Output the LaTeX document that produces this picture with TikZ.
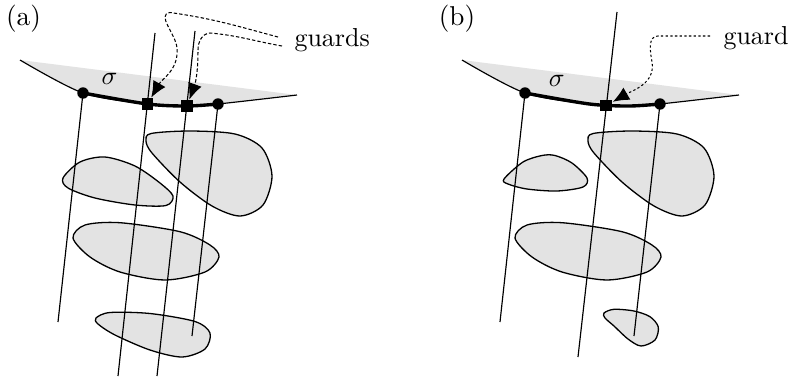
\documentclass[tikz,border=0pt]{standalone}
\usetikzlibrary{arrows.meta}
\newcommand{\panelbase}[1]{%
  \fill[gray!22] plot[smooth] coordinates {(20,-60) (83,-93) (147.5,-104) (187,-106) (218,-104) (297,-95)} -- cycle;
  \draw[ray] plot[smooth] coordinates {(20,-60) (83,-93) (147.5,-104) (187,-106) (218,-104) (297,-95)};
  \draw[blob] plot[smooth cycle] coordinates {(146,-141) (151,-133.5) (190,-131) (235,-134) (262,-148) (272,-176) (263,-205) (240,-216) (212,-206) (180,-182) (152,-153)};
  \draw[blob] plot[smooth cycle] coordinates {(73,-238) (85,-225) (120,-222.7) (180,-231.7) (210,-245) (219,-257) (205,-272) (165,-280) (120,-272) (90,-257)};
}
\newcommand{\panelrays}[1]{%
  \draw[line width=1.3pt] plot[smooth] coordinates {(83,-93) (147.5,-104) (187,-106) (218,-104)};
  \node[vdot] (d1#1) at (83,-93) {};
  \node[vdot] (d4#1) at (218,-104) {};
  \coordinate (e1#1) at (58,-322);
  \coordinate (e4#1) at (192,-336);
  \draw[ray] (d1#1.center) -- (e1#1);
  \draw[ray] (d4#1.center) -- (e4#1);
}
\begin{document}
\begin{tikzpicture}[x=0.385pt,y=0.385pt,
  ray/.style={line width=0.45pt},
  blob/.style={fill=gray!22,draw=black,line width=0.5pt},
  vdot/.style={circle,fill=black,inner sep=0pt,minimum size=4.4pt},
  guardsq/.style={rectangle,fill=black,inner sep=0pt,minimum size=4.6pt},
  ptra/.style={line width=0.4pt,dash pattern=on 1.3pt off 0.8pt,-{Latex[length=6.2pt,width=5.4pt]}},
  ptrb/.style={line width=0.4pt,dash pattern=on 0.9pt off 0.9pt,-{Latex[length=6.2pt,width=5.4pt]}},
  lbl/.style={inner sep=0pt}]
\useasboundingbox (0,0) rectangle (792,-376);
% ---------------- panel (a)
\panelbase{a}
\draw[blob] plot[smooth cycle] coordinates {(63,-178) (80,-162) (105,-157) (135,-166) (160,-183) (173,-196) (166,-205.5) (135,-205) (95,-198) (68,-188)};
\draw[blob] plot[smooth cycle] coordinates {(96,-318) (110,-312.5) (150,-313.5) (195,-321.5) (210,-333) (205,-349) (182,-357) (150,-350) (115,-335) (98,-324)};
\panelrays{a}
\coordinate (t2a) at (155,-33);
\coordinate (b2a) at (118,-376);
\coordinate (t3a) at (195,-31);
\coordinate (b3a) at (157,-376);
\draw[ray] (t2a) -- (b2a);
\draw[ray] (t3a) -- (b3a);
\node[guardsq] (sqa1) at (147.5,-104) {};
\node[guardsq] (sqa2) at (187,-106) {};
\node[lbl] (siga) at (109.5,-79) {$\sigma$};
\node[lbl,font=\fontsize{10.5}{12}\selectfont] (laba) at (23.5,-19) {(a)};
\node[lbl,anchor=base west] (ga) at (294,-46) {guards};
\coordinate (ga1) at (278,-37);
\coordinate (ga2) at (282,-46);
\draw[ptra] (ga1) to[out=165,in=-8] (170,-12.5) to[out=188,in=95] (177,-48) to[out=-85,in=60] (sqa1);
\draw[ptra] (ga2) to[out=170,in=-5] (210,-33) to[out=185,in=90] (198,-50) to[out=-90,in=70] (sqa2);
% ---------------- panel (b)
\begin{scope}[shift={(442,0)}]
\panelbase{b}
\draw[blob] plot[smooth cycle] coordinates {(62,-179) (81,-162) (100,-155.5) (113,-155.5) (130,-163) (145,-178) (141,-187) (115,-191) (85,-189) (66,-184)};
\draw[blob] plot[smooth cycle] coordinates {(162,-313) (172,-309.3) (192,-311) (208,-316.7) (216.3,-327) (213,-340) (199,-346) (186,-339) (172,-326) (163,-318)};
\panelrays{b}
\coordinate (t2b) at (175,-12);
\coordinate (b2b) at (136,-357);
\draw[ray] (t2b) -- (b2b);
\node[guardsq] (sqb) at (164.4,-105.5) {};
\node[lbl] (sigb) at (114.7,-81) {$\sigma$};
\node[lbl,font=\fontsize{10.5}{12}\selectfont] (labb) at (15,-19) {(b)};
\node[lbl,anchor=base west] (gb) at (281,-44) {guard};
\coordinate (gb1) at (268,-36);
\draw[ptrb] (gb1) -- (216,-36) to[out=180,in=100] (210,-62) to[out=-80,in=30] (sqb);
\end{scope}
\end{tikzpicture}
\end{document}
